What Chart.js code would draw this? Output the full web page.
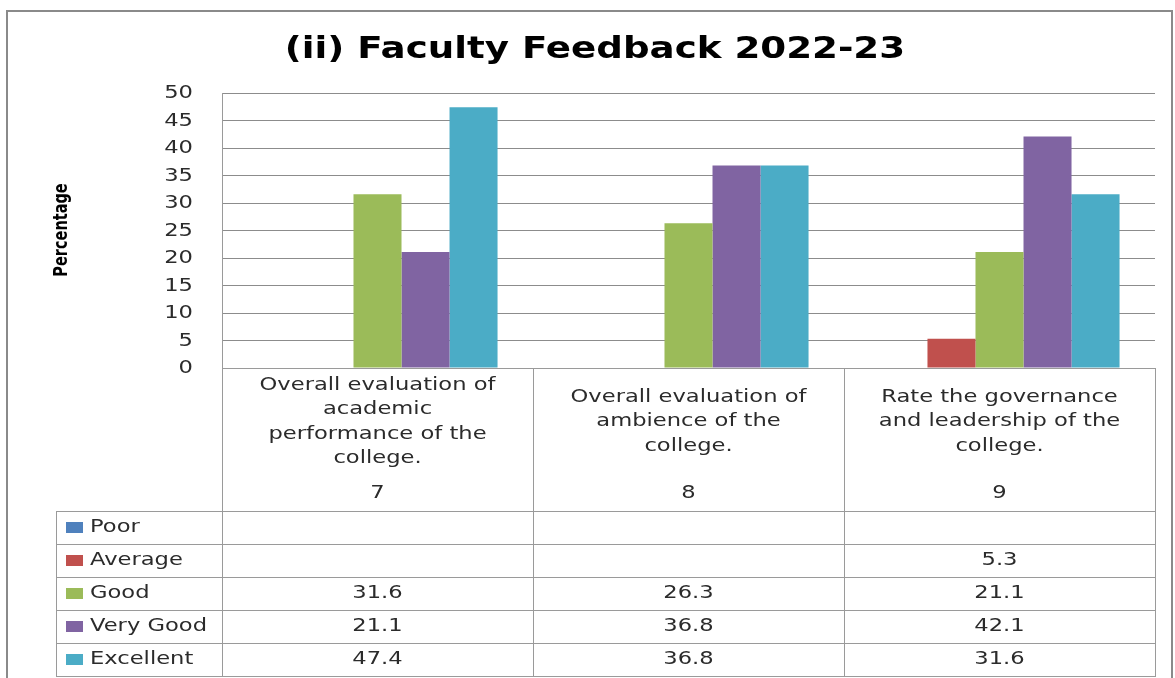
<!DOCTYPE html>
<html>
<head>
<meta charset="utf-8">
<script src="https://cdn.jsdelivr.net/npm/chart.js@4/dist/chart.umd.min.js"></script>
<style>
  html, body { margin: 0; padding: 0; background: #fff; }
  #wrap { position: relative; width: 1175px; height: 678px; }
</style>
</head>
<body>
<div id="wrap"><canvas id="chart" width="1175" height="678"></canvas></div>
<script>
// ========= DATA ========= //
const titleText = "(ii) Faculty Feedback 2022-23";
const yTitle = "Percentage";

const categories = [
    ["Overall evaluation of", "academic", "performance of the", "college."],
    ["Overall evaluation of", "ambience of the", "college."],
    ["Rate the governance", "and leadership of the", "college."]
];
const questionNos = ["7", "8", "9"];

const seriesNames = ["Poor", "Average", "Good", "Very Good", "Excellent"];
const poor      = [null, null, null];
const average   = [null, null, 5.3];
const good      = [31.6, 26.3, 21.1];
const veryGood  = [21.1, 36.8, 42.1];
const excellent = [47.4, 36.8, 31.6];
const seriesColors = ["#4F81BD", "#C0504D", "#9BBB59", "#8064A2", "#4BACC6"];

const yTicks = [0, 5, 10, 15, 20, 25, 30, 35, 40, 45, 50];

const allSeries = [poor, average, good, veryGood, excellent];

// ========= LOOK ========= //
const FONT = "'DejaVu Sans', sans-serif";
const LINE = "#9a9a9a";
const TEXT = "#2b2b2b";
const SX = 1.33;          // the original text is drawn wide

// draws text stretched horizontally
function wideText(ctx, str, x, y, sx, align) {
    ctx.save();
    ctx.translate(x, y);
    ctx.scale(sx, 1);
    ctx.textAlign = align;
    ctx.fillText(str, 0, 0);
    ctx.restore();
}

// ========= TEXT + DATA TABLE PLUGIN ========= //
const dataTable = {
    id: "dataTable",
    afterDraw(chart) {
        const ctx = chart.ctx;
        const x = chart.scales.x;
        const y = chart.scales.y;
        const area = chart.chartArea;
        const n = categories.length;
        const colW = (x.right - x.left) / n;
        const tableLeft = 56;
        const headTop = area.bottom;
        const rowsTop = 511;
        const rowH = 33;
        const tableBottom = rowsTop + rowH * seriesNames.length;

        ctx.save();

        // title
        ctx.fillStyle = "#000";
        ctx.font = "bold 30px " + FONT;
        ctx.textBaseline = "alphabetic";
        wideText(ctx, titleText, 595, 58, 1.24, "center");

        // y axis title, rotated
        ctx.save();
        ctx.translate(62, 230);
        ctx.scale(1.3, 1);
        ctx.rotate(-Math.PI / 2);
        ctx.font = "bold 14.5px " + FONT;
        ctx.textAlign = "center";
        ctx.textBaseline = "middle";
        ctx.fillText(yTitle, 0, 0);
        ctx.restore();

        // y tick labels at the scale's tick positions
        ctx.fillStyle = TEXT;
        ctx.font = "17px " + FONT;
        ctx.textBaseline = "middle";
        y.ticks.forEach(t => {
            wideText(ctx, String(t.value), 193, y.getPixelForValue(t.value) + 1, SX, "right");
        });

        // table grid
        ctx.strokeStyle = LINE;
        ctx.lineWidth = 1;
        ctx.beginPath();
        for (let i = 0; i <= n; i++) {
            const bx = Math.round(x.left + i * colW) + 0.5;
            ctx.moveTo(bx, headTop);
            ctx.lineTo(bx, tableBottom);
        }
        ctx.moveTo(tableLeft + 0.5, rowsTop);
        ctx.lineTo(tableLeft + 0.5, tableBottom);
        for (let r = 0; r <= seriesNames.length; r++) {
            const ry = rowsTop + r * rowH + 0.5;
            ctx.moveTo(tableLeft, ry);
            ctx.lineTo(x.right + 1, ry);
        }
        ctx.stroke();

        // category labels
        categories.forEach((lines, i) => {
            const cx = x.getPixelForValue(i);
            const lh = 24.5;
            const startY = 422 - (lines.length - 1) * lh / 2;
            lines.forEach((ln, k) => wideText(ctx, ln, cx, startY + k * lh, SX, "center"));
            wideText(ctx, questionNos[i], cx, 494, SX, "center");
        });

        // legend keys, names and values
        seriesNames.forEach((name, r) => {
            const cy = rowsTop + r * rowH + rowH / 2;
            ctx.fillStyle = seriesColors[r];
            ctx.fillRect(66, Math.round(cy - 6), 17, 11);
            ctx.fillStyle = TEXT;
            wideText(ctx, name, 90, cy, SX, "left");
            allSeries[r].forEach((v, i) => {
                if (v !== null) wideText(ctx, v.toFixed(1), x.getPixelForValue(i), cy, SX, "center");
            });
        });

        // outer chart border
        ctx.strokeStyle = "#8a8a8a";
        ctx.lineWidth = 2;
        ctx.strokeRect(7, 11, 1165, 680);
        ctx.restore();
    }
};

// ========= CHART ========= //
new Chart(document.getElementById("chart"), {
    type: "bar",
    data: {
        labels: questionNos,
        datasets: seriesNames.map((name, i) => ({
            label: name,
            data: allSeries[i],
            backgroundColor: seriesColors[i],
            borderWidth: 0,
            categoryPercentage: 0.772,
            barPercentage: 1.0
        }))
    },
    options: {
        responsive: false,
        animation: false,
        layout: { padding: { left: 0, top: 93, right: 20, bottom: 310 } },
        plugins: {
            legend: { display: false },
            tooltip: { enabled: false }
        },
        scales: {
            x: {
                ticks: { display: false },
                grid: { drawOnChartArea: false, drawTicks: false },
                border: { display: true, color: LINE, width: 1 }
            },
            y: {
                min: 0,
                max: 50,
                afterBuildTicks: s => { s.ticks = yTicks.map(v => ({ value: v })); },
                afterFit: s => { s.width = 222; },
                ticks: { display: false },
                grid: { color: "#8c8c8c", drawTicks: false },
                border: { display: true, color: LINE, width: 1 }
            }
        }
    },
    plugins: [dataTable]
});
</script>
</body>
</html>
